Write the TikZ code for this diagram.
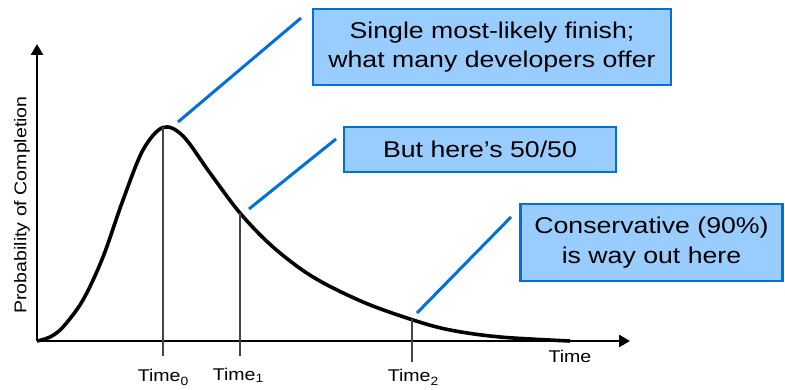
\documentclass[tikz,border=0pt]{standalone}
\usepackage{fontspec}
\setmainfont{Liberation Sans}
\newfontfamily\boxfont[FakeStretch=1.17]{Liberation Sans}
\newfontfamily\labfont[FakeStretch=1.15]{Liberation Sans}
\usetikzlibrary{arrows.meta}
\definecolor{boxfill}{HTML}{99CCFF}
\definecolor{boxline}{HTML}{0070D8}
\definecolor{tickgray}{HTML}{444444}
\begin{document}
\begin{tikzpicture}[x=1pt,y=-1pt,
  callout/.style={draw=boxline, fill=boxfill, line width=2.5pt, align=center,
    inner sep=0pt, font=\boxfont\fontsize{22.8}{29.5}\selectfont},
  leader/.style={draw=boxline, line width=3pt},
  axisline/.style={line width=2.7pt, -{Triangle[length=11pt,width=12pt]}},
  curveline/.style={line width=3.6pt, line join=round},
  dropline/.style={draw=tickgray, line width=1.3pt},
  timelab/.style={font=\labfont\fontsize{17}{17}\selectfont, inner sep=0pt}
]
\useasboundingbox (0,0) rectangle (785,390);

% axes
\coordinate (O) at (37,341);
\coordinate (xtip) at (630,341);
\coordinate (ytip) at (37,44);
\draw[axisline] (O) -- (xtip);
\draw[axisline] (O) -- (ytip);

% curve
\draw[curveline] plot[smooth, tension=0.55] coordinates {
  (37,341) (50,337) (63,327) (83,300) (103,257) (123,200) (143,150) (163,127.5)
  (183,136) (210,173) (240,213) (273,247) (313,277) (363,302) (413,320)
  (450,330) (500,337) (570,341)};

% drop lines
\coordinate (p0) at (163,127);
\coordinate (p1) at (240,213);
\coordinate (p2) at (412,319);
\coordinate (b0) at (163,356);
\coordinate (b1) at (240,356);
\coordinate (b2) at (412,362);
\draw[dropline] (p0) -- (b0);
\draw[dropline] (p1) -- (b1);
\draw[dropline] (p2) -- (b2);

% labels
\node[timelab] (t0) at (163,377) {Time\raisebox{-4pt}{\fontsize{12}{12}\selectfont 0}};
\node[timelab] (t1) at (238,375) {Time\raisebox{-2pt}{\fontsize{12}{12}\selectfont 1}};
\node[timelab] (t2) at (413,377) {Time\raisebox{-4pt}{\fontsize{12}{12}\selectfont 2}};
\node[timelab] (tx) at (570,356) {Time};
\node[timelab, rotate=90] (ylab) at (22,205) {Probability of Completion};

% callouts
\node[callout, minimum width=358pt, minimum height=76pt] (c1) at (492,47)
  {Single most-likely finish;\\what many developers offer};
\node[callout, minimum width=272pt, minimum height=45pt] (c2) at (480,149.5)
  {But here’s 50/50};
\node[callout, minimum width=262pt, minimum height=77pt] (c3) at (651.5,242.5)
  {Conservative (90\%)\\is way out here};

% leader lines
\coordinate (a1) at (178,122);
\coordinate (e1) at (301,18);
\coordinate (a2) at (249,209);
\coordinate (e2) at (336,139);
\coordinate (a3) at (417,313);
\coordinate (e3) at (511,217);
\draw[leader] (a1) -- (e1);
\draw[leader] (a2) -- (e2);
\draw[leader] (a3) -- (e3);
\end{tikzpicture}
\end{document}
